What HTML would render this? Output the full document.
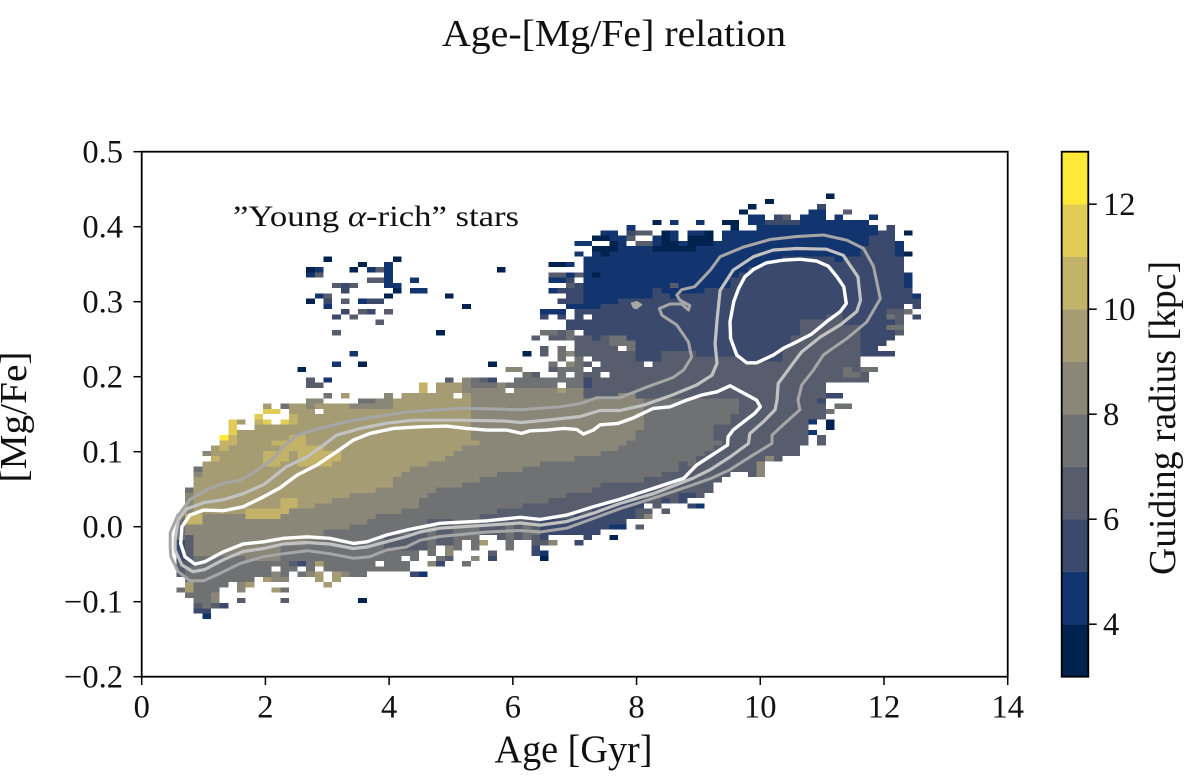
<!DOCTYPE html>
<html lang="en">
<head>
<meta charset="utf-8">
<title>Age-[Mg/Fe] relation</title>
<style>
html,body{margin:0;padding:0;background:#fff;}
svg{display:block;font-family:"Liberation Serif",serif;fill:#111;}
</style>
</head>
<body>
<svg id="chart" xmlns="http://www.w3.org/2000/svg" width="1200" height="776" viewBox="0 0 1200 776">
  <text x="614" y="46" font-size="38" text-anchor="middle" textLength="344" lengthAdjust="spacingAndGlyphs">Age-[Mg/Fe] relation</text>
  <g id="heatmap" shape-rendering="crispEdges"></g>
  <g id="contours"></g>
  <rect x="141.7" y="151.7" width="866" height="525" fill="none" stroke="#000" stroke-width="1.8"></rect>
  <g id="xaxis"></g>
  <g id="yaxis"></g>
  <text x="573.5" y="762" font-size="39" text-anchor="middle" textLength="158" lengthAdjust="spacingAndGlyphs">Age [Gyr]</text>
  <text transform="translate(26,417) rotate(-90)" font-size="38" text-anchor="middle" textLength="131" lengthAdjust="spacingAndGlyphs">[Mg/Fe]</text>
  <text x="233" y="226" font-size="30" textLength="286" lengthAdjust="spacingAndGlyphs">”Young <tspan font-style="italic">α</tspan>-rich” stars</text>
  <g id="colorbar"></g>
  <text transform="translate(1175,418) rotate(-90)" font-size="38" text-anchor="middle" textLength="314" lengthAdjust="spacingAndGlyphs">Guiding radius [kpc]</text>
</svg>
<script>
// Axis ticks
const xTicks = [0, 2, 4, 6, 8, 10, 12, 14];
const yTicks = [-0.2, -0.1, 0, 0.1, 0.2, 0.3, 0.4, 0.5];
const yTickLabels = ["−0.2", "−0.1", "0.0", "0.1", "0.2", "0.3", "0.4", "0.5"];
const colorbarTicks = [4, 6, 8, 10, 12];
const radiusEdges = [3, 4, 5, 6, 7, 8, 9, 10, 11, 12, 13];
const palette = ["#00224e", "#123570", "#3b496c", "#575d6d", "#707173", "#8a8678", "#a59c74", "#c3b369", "#e1cc55", "#fee838"];

// Heatmap histogram bins: 0.14 Gyr wide, 0.007 dex tall.
// Each column: ageBin, firstMgBin, then pairs (radius, lastMgBin) going upward.
const heatColumns = [
[4,19,6,21,5,25,7,30],
[5,15,7,15,9,17,7,20,6,26,8,28,10,30,8,34,7,35],
[6,12,5,12,6,13,7,22,8,28,10,30,9,37,8,38,7,39],
[7,11,4,11,5,12,7,22,8,30,9,40],
[8,13,6,13,8,15,7,22,8,30,9,43],
[9,17,7,22,8,30,9,42,10,44,12,45],
[10,18,7,22,8,30,9,43,10,45,11,48],
[11,16,8,17,7,22,8,30,9,46],
[12,17,9,17,7,21,8,29,10,31,9,46],
[13,19,7,21,8,29,10,31,9,47,10,48,11,49],
[14,18,9,18,7,21,8,29,10,31,9,39,10,42,9,47,11,48],
[15,18,8,19,7,21,8,29,10,31,9,39,10,42,9,43,10,44,9,47],
[16,18,8,18,7,24,8,30,10,33,9,40,10,44,9,47,11,48],
[17,20,7,24,8,31,10,33,9,42,10,45,9,47,10,49,9,51],
[18,19,7,24,8,31,9,39,10,45,9,51],
[19,19,8,19,7,25,8,31,9,39,10,43,9,50,8,52],
[20,18,9,19,7,25,8,32,9,39,10,43,9,51,8,52],
[21,20,7,27,8,32,9,39,10,42,9,51],
[22,18,9,19,7,27,8,33,9,40,10,42,9,51],
[23,19,8,19,7,27,8,33,9,51],
[24,19,7,28,8,34,9,50,8,51],
[25,19,7,28,8,34,9,50,8,51,7,52],
[26,20,7,29,8,34,9,50,8,51,7,52],
[27,20,7,30,8,35,9,50,8,52],
[28,20,7,23,6,26,7,30,8,35,9,50,8,53],
[29,20,7,23,6,26,7,30,8,37,9,52],
[30,20,7,23,6,26,7,31,8,38,9,53],
[31,19,5,19,7,23,6,27,7,31,8,39,9,53],
[32,24,6,27,7,33,8,39,9,53,10,55],
[33,23,7,28,6,29,7,34,8,40,9,53],
[34,25,6,29,7,35,8,40,9,55],
[35,23,8,24,6,29,7,35,8,41,9,55],
[36,24,7,35,8,42,9,55],
[37,26,7,36,8,43,9,53,8,56],
[38,24,7,36,8,43,9,44,8,54,7,56],
[39,27,6,30,7,37,8,54,7,55,6,56],
[40,27,6,30,7,37,8,54,7,55,5,56],
[41,26,6,31,7,38,8,55],
[42,24,7,28,6,31,7,38,8,53],
[43,26,6,31,7,38,8,54,7,56],
[44,26,7,28,6,32,7,39,8,54,7,57],
[45,23,5,24,6,26,7,27,6,32,7,39,8,54,7,56,6,57],
[46,25,6,25,5,29,6,32,7,40,8,54,7,56],
[47,25,8,25,5,29,6,33,7,40,8,54,7,56],
[48,27,5,29,6,33,7,40,8,53,9,54,7,62,6,65],
[49,27,5,29,6,34,7,40,8,54,7,58,8,61,7,65,5,67],
[50,27,5,30,6,34,7,41,8,54,7,60,6,64,5,69,4,70,5,74],
[51,26,5,30,6,34,7,41,8,52,6,54,5,56,6,64,5,69,4,79],
[52,27,5,31,6,35,7,41,8,52,6,63,5,69,4,75,3,76,4,80,3,81],
[53,28,5,32,6,36,7,42,8,52,6,64,5,70,4,79,3,81],
[54,28,4,28,5,32,6,36,7,42,8,52,6,62,7,64,5,70,4,80,3,82,4,84],
[55,28,4,28,5,33,6,36,7,43,8,53,6,61,7,64,5,71,4,83],
[56,30,5,33,6,36,7,44,8,53,6,61,7,63,5,71,4,81],
[57,30,6,31,5,34,6,36,7,46,8,52,6,59,5,71,4,81],
[58,33,6,37,7,52,6,59,5,71,4,81],
[59,32,6,37,7,52,6,59,5,73,4,80,3,81,4,83],
[60,33,5,33,6,38,7,52,6,61,5,72,4,80,3,84],
[61,33,6,38,7,52,6,61,5,71,4,80,3,82,4,84],
[62,33,5,34,6,40,7,52,6,61,5,72,4,80,3,81,4,82],
[63,34,5,34,6,39,7,52,6,61,5,72,4,80,3,83,4,84],
[64,34,6,41,7,52,6,60,5,72,4,81,3,83,4,84],
[65,35,6,42,7,52,6,60,5,73,4,81,3,84],
[66,37,6,43,7,44,6,47,7,52,6,60,5,73,4,82],
[67,38,6,47,7,52,6,60,5,73,4,84],
[68,39,6,49,7,52,6,60,5,75,4,84,3,86],
[69,39,6,59,5,76,4,84],
[70,38,6,59,5,77,4,84],
[71,38,8,40,6,59,5,77,4,87],
[72,41,8,41,6,59,5,78,4,85,5,86],
[73,41,6,59,5,78,4,85,5,87],
[74,42,6,62,5,79,4,85,5,86,6,87],
[75,42,6,64,5,79,4,85,5,86],
[76,44,6,67,5,79,4,87],
[77,49,6,67,5,79,4,88],
[78,50,6,67,5,79,4,88,5,89],
[79,56,6,68,5,79,4,86],
[80,56,6,68,5,78,4,87],
[81,56,6,66,5,79,4,86],
[82,56,6,66,5,79,4,86],
[83,61,5,81,4,86],
[84,61,5,83,4,85],
[85,63,5,84],
[86,64,5,85],
[87,65,6,69,5,79,4,82],
[88,71,5,73,4,76]
];

// Isolated or off-band cells: ageBin, mgBin, radius.
const strayCells = [
[4,16,7],[7,42,8],[8,41,10],[9,13,5],[11,48,9],[11,14,6],[14,50,11],[14,51,9],[15,50,11],[15,16,9],
[16,51,7],[16,16,7],[16,14,6],[17,21,6],[18,21,5],[20,21,9],[21,17,9],[21,53,7],[23,53,9],[25,14,3],
[32,19,4],[33,21,8],[34,22,7],[34,21,5],[34,65,3],[35,22,6],[35,56,6],[35,72,3],[37,21,7],[37,70,3],
[38,22,8],[39,25,9],[40,23,6],[40,22,5],[40,59,3],[41,77,3],[42,55,7],[42,58,8],[43,58,8],[44,61,3],
[45,64,6],[46,22,3],[46,23,4],[46,61,6],[46,62,6],[46,65,7],[46,68,5],[46,69,4],
[47,58,6],[47,59,7],[47,64,6],[47,65,7],[47,69,4],[47,73,4],[47,75,4],[47,76,6],[47,78,3],
[48,68,5],[48,69,4],[48,71,5],[48,73,5],[48,75,4],[48,76,6],[48,78,3],
[49,70,4],[49,71,5],[49,72,5],[49,74,6],[49,75,5],[49,76,4],[49,78,4],
[50,25,5],[50,76,6],[50,80,4],[50,82,4],[51,82,4],[52,83,3],[53,83,3],[53,84,4],[54,26,3],
[56,83,6],[56,84,5],[56,85,4],[57,28,6],[57,82,6],[58,82,6],[57,84,6],[58,84,6],[58,30,8],[58,31,6],
[59,86,3],[60,31,6],[61,86,4],[61,74,6],[63,32,5],[64,32,4],[64,86,4],[67,86,3],[69,88,3],
[70,86,4],[70,87,4],[70,89,3],[72,90,3],[76,46,6],[77,46,4],[77,48,4],[78,44,6],[78,45,6],[78,49,6],[78,52,5],
[79,47,3],[79,48,3],[79,50,7],[79,53,5],[79,91,3],[80,51,7],[80,53,5],[81,51,7],[81,57,7],[81,58,7],[81,88,6],
[82,57,7],[83,56,6],[83,57,6],[83,58,7],[84,58,7],[84,87,4],[85,61,5],[86,61,5],[86,66,7],[86,68,7],[86,69,6],
[87,66,7],[88,69,7],[88,74,4],[88,80,3],[88,84,3],[89,68,5],[89,70,5],[89,71,5],[89,72,4],
[21,79,3],[29,79,3],[25,78,3],[28,78,4],[19,77,3],[20,77,4],[19,76,4],[20,76,6],[24,77,3],[26,77,4],[27,77,6],[28,77,4],
[28,76,4],[28,75,4],[26,75,6],[27,75,6],[22,74,6],[23,74,5],[24,74,6],[28,74,4],[29,74,4],[23,73,5],[29,73,3],
[28,72,3],[20,72,4],[21,72,6],[19,71,3],[21,71,5],[23,71,6],[25,71,4],[26,71,5],[27,71,5],[21,70,4],
[23,69,5],[25,69,6],[26,69,5],[28,69,6],[22,68,5],[24,68,6],[27,67,6],[22,65,6],[24,61,4],[22,59,4],[25,59,3],
[18,58,3],[19,56,6],[19,55,6],[20,55,6],[21,56,4],[31,75,4],[31,73,4],[32,73,4],[48,76,6],[49,73,5]
];

// Bins with no stars inside a filled band: ageBin, mgBin.
const emptyCells = [
[15,20],[18,20],[20,20],[20,50],[27,21],[30,22],[31,20],[31,21],[36,53],[47,26],
[48,55],[48,59],[48,63],[49,57],[49,60],[49,62],[49,63],[50,65],[51,58],[51,60],[51,68],
[52,59],[53,57],[55,62],[58,59],[33,54],[42,54]
];

// Density contours (age in Gyr, [Mg/Fe] in dex).
const coreContourAge = [9.75,9.89,10.10,10.37,10.64,10.91,11.10,11.24,11.35,11.39,11.29,11.07,10.83,10.59,10.37,10.21,9.94,9.78,9.62,9.52,9.51,9.57,9.65];
const coreContourMg = [0.3332,0.3430,0.3519,0.3554,0.3567,0.3541,0.3474,0.3332,0.3199,0.2976,0.2865,0.2732,0.2568,0.2466,0.2377,0.2288,0.2186,0.2186,0.2288,0.2510,0.2732,0.2999,0.3176];
const innerContourAge = [9.51,9.30,9.05,8.81,8.54,8.27,7.94,7.70,7.41,7.30,7.14,7.03,6.82,6.55,6.28,6.14,5.90,5.58,5.25,4.93,4.50,4.07,3.69,3.42,3.15,2.83,2.51,2.24,1.97,1.64,1.32,1.00,0.78,0.65,0.63,0.70,0.86,1.02,1.32,1.64,1.97,2.29,2.67,3.04,3.42,3.64,3.96,4.28,4.82,5.58,6.12,6.44,6.87,7.30,7.73,8.27,8.76,8.97,9.30,9.47,9.48,9.56,9.73,9.91,10.00,9.94];
const innerContourMg = [0.1879,0.1799,0.1755,0.1688,0.1599,0.1577,0.1448,0.1377,0.1359,0.1288,0.1235,0.1297,0.1311,0.1288,0.1279,0.1244,0.1288,0.1288,0.1311,0.1341,0.1332,0.1311,0.1244,0.1155,0.0999,0.0822,0.0688,0.0522,0.0399,0.0266,0.0213,0.0222,0.0155,-0.0001,-0.0222,-0.0401,-0.0498,-0.0467,-0.0334,-0.0231,-0.0201,-0.0155,-0.0134,-0.0155,-0.0222,-0.0201,-0.0111,-0.0045,0.0045,0.0079,0.0125,0.0098,0.0155,0.0266,0.0365,0.0511,0.0644,0.0822,0.0999,0.1088,0.1199,0.1288,0.1399,0.1511,0.1599,0.1688];
const middleContourAge = [0.54,0.59,0.73,1.00,1.32,1.64,1.97,2.34,2.67,2.94,3.15,3.53,3.96,4.39,5.15,5.85,6.14,6.65,7.09,7.41,7.73,8.11,8.59,8.97,9.22,9.30,9.27,9.30,9.35,9.56,9.89,10.21,10.59,11.07,11.34,11.58,11.62,11.56,11.29,10.97,10.67,10.53,10.29,10.27,10.24,10.05,9.83,9.81,9.51,9.19,8.92,8.27,7.73,7.30,6.87,6.44,6.12,5.58,4.82,4.50,4.28,3.96,3.64,3.42,3.04,2.67,2.29,1.97,1.64,1.32,1.02,0.83,0.65,0.54];
const middleContourMg = [-0.018,0.009,0.024,0.032,0.036,0.044,0.056,0.080,0.093,0.109,0.122,0.131,0.138,0.142,0.142,0.141,0.139,0.143,0.147,0.155,0.155,0.162,0.176,0.189,0.202,0.218,0.244,0.275,0.315,0.342,0.360,0.369,0.371,0.370,0.362,0.333,0.302,0.287,0.269,0.253,0.233,0.218,0.191,0.169,0.156,0.140,0.124,0.111,0.093,0.076,0.065,0.044,0.031,0.018,0.007,0.002,0.005,0.002,-0.002,-0.007,-0.013,-0.020,-0.027,-0.029,-0.023,-0.021,-0.023,-0.029,-0.033,-0.044,-0.057,-0.060,-0.051,-0.031];
const outerContourAge = [0.46,0.46,0.57,0.78,1.05,1.32,1.59,1.83,2.13,2.29,2.51,2.88,3.31,3.74,4.28,4.82,5.15,6.12,6.76,7.09,7.36,7.73,8.16,8.59,8.76,8.89,8.84,8.65,8.41,8.37,8.54,8.73,8.84,8.86,8.70,8.65,8.73,8.94,9.19,9.35,9.73,10.16,10.59,11.02,11.40,11.67,11.83,11.94,11.72,11.40,11.02,10.86,10.67,10.61,10.64,10.37,10.19,10.19,9.89,9.51,9.19,8.81,8.27,7.73,7.30,6.87,6.44,6.12,5.58,4.82,4.50,4.28,3.96,3.69,3.42,3.04,2.67,2.29,1.97,1.59,1.27,1.00,0.78,0.59,0.47];
const outerContourMg = [-0.027,-0.008,0.013,0.036,0.049,0.058,0.062,0.073,0.091,0.107,0.122,0.131,0.140,0.146,0.153,0.156,0.158,0.156,0.160,0.164,0.172,0.172,0.186,0.199,0.209,0.226,0.246,0.269,0.282,0.291,0.297,0.297,0.289,0.295,0.302,0.309,0.316,0.320,0.342,0.360,0.373,0.383,0.387,0.389,0.382,0.371,0.347,0.304,0.273,0.251,0.229,0.209,0.189,0.169,0.156,0.136,0.122,0.111,0.096,0.076,0.064,0.053,0.038,0.024,0.011,-0.002,-0.007,-0.005,-0.007,-0.013,-0.018,-0.027,-0.031,-0.040,-0.042,-0.036,-0.032,-0.036,-0.040,-0.049,-0.062,-0.072,-0.072,-0.060,-0.040];
const islandContourAge = [7.92,8.00,8.08,8.00,7.95];
const islandContourMg = [0.298,0.300,0.296,0.291,0.292];

const AGE_BIN = 0.14, MG_BIN = 0.007, MG_MIN = -0.2;
const NS = "http://www.w3.org/2000/svg";
function xScale(age) { return 141.7 + age * 61.857; }
function yScale(mg) { return 676.7 - (mg + 0.2) * 750; }
function cbScale(r) { return 676.7 - (r - 3) * 52.5; }
function colorFor(r) {
  for (let k = 0; k < palette.length; k++) {
    if (r >= radiusEdges[k] && r < radiusEdges[k + 1]) return palette[k];
  }
  return "#ffffff";
}
function make(tag, parent, attrs, text) {
  const el = document.createElementNS(NS, tag);
  for (const key in attrs) el.setAttribute(key, attrs[key]);
  if (text !== undefined) el.textContent = text;
  parent.appendChild(el);
  return el;
}

// Build the grid from the data arrays
const grid = new Map();
heatColumns.forEach(function (col) {
  let row = col[1];
  for (let p = 2; p < col.length; p += 2) {
    for (; row <= col[p + 1]; row++) grid.set(col[0] + ":" + row, col[p]);
  }
});
emptyCells.forEach(function (c) { grid.delete(c[0] + ":" + c[1]); });
strayCells.forEach(function (c) { grid.set(c[0] + ":" + c[1], c[2]); });

const heatmap = document.getElementById("heatmap");
grid.forEach(function (radius, key) {
  const parts = key.split(":");
  const left = xScale(parts[0] * AGE_BIN);
  const right = xScale((+parts[0] + 1) * AGE_BIN);
  const bottom = yScale(MG_MIN + parts[1] * MG_BIN);
  const top = yScale(MG_MIN + (+parts[1] + 1) * MG_BIN);
  const cell = make("rect", heatmap, { x: left, y: top, width: right - left, height: bottom - top, fill: colorFor(radius) });
  
  
});

// Contours
function contourPath(ages, mgs) {
  return ages.map(function (a, i) { return (i ? "L" : "M") + xScale(a).toFixed(1) + " " + yScale(mgs[i]).toFixed(1); }).join("") + "Z";
}
const contourGroup = document.getElementById("contours");
const outerLine = make("path", contourGroup, { d: contourPath(outerContourAge, outerContourMg), fill: "none", stroke: "#a6a6a6", "stroke-width": 3, "stroke-linejoin": "round" });


const islandLine = make("path", contourGroup, { d: contourPath(islandContourAge, islandContourMg), fill: "#a6a6a6", stroke: "#a6a6a6", "stroke-width": 1.5, "stroke-linejoin": "round" });


const middleLine = make("path", contourGroup, { d: contourPath(middleContourAge, middleContourMg), fill: "none", stroke: "#c2c2c2", "stroke-width": 3.2, "stroke-linejoin": "round" });


const innerLine = make("path", contourGroup, { d: contourPath(innerContourAge, innerContourMg), fill: "none", stroke: "#ffffff", "stroke-width": 3.4, "stroke-linejoin": "round" });


const coreLine = make("path", contourGroup, { d: contourPath(coreContourAge, coreContourMg), fill: "none", stroke: "#ffffff", "stroke-width": 3.4, "stroke-linejoin": "round" });



// X axis
const xAxis = document.getElementById("xaxis");
xTicks.forEach(function (t) {
  const px = xScale(t);
  const mark = make("line", xAxis, { x1: px, x2: px, y1: 676.7, y2: 685, stroke: "#000", "stroke-width": 1.5 });
  
  
  const label = make("text", xAxis, { x: px, y: 717.3, "font-size": 32.5, "text-anchor": "middle" }, String(t));
  
  
});

// Y axis
const yAxis = document.getElementById("yaxis");
yTicks.forEach(function (t, i) {
  const py = yScale(t);
  const mark = make("line", yAxis, { x1: 133.5, x2: 141.7, y1: py, y2: py, stroke: "#000", "stroke-width": 1.5 });
  
  
  const label = make("text", yAxis, { x: 123, y: py + 11, "font-size": 32.5, "text-anchor": "end" }, yTickLabels[i]);
  
  
});

// Colorbar
const colorbar = document.getElementById("colorbar");
palette.forEach(function (c, i) {
  const top = cbScale(radiusEdges[i + 1]);
  const bottom = cbScale(radiusEdges[i]);
  const band = make("rect", colorbar, { x: 1061.7, y: top, width: 26.6, height: bottom - top + 0.2, fill: c });
  
  
});
const cbFrame = make("rect", colorbar, { x: 1061.7, y: 151.7, width: 26.6, height: 525, fill: "none", stroke: "#000", "stroke-width": 1.8 });


colorbarTicks.forEach(function (t) {
  const py = cbScale(t);
  const mark = make("line", colorbar, { x1: 1088.3, x2: 1096.7, y1: py, y2: py, stroke: "#000", "stroke-width": 1.5 });
  
  
  const label = make("text", colorbar, { x: 1103, y: py + 11, "font-size": 32.5 }, String(t));
  
  
});
</script>
</body>
</html>
